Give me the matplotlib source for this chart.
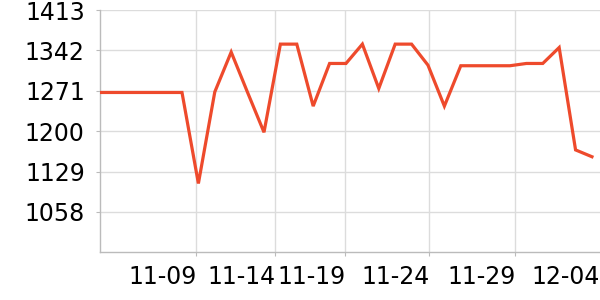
import matplotlib
matplotlib.use("Agg")
import matplotlib.pyplot as plt

values = [1268, 1268, 1268, 1268, 1268, 1268, 1108, 1269, 1339, 1268, 1198,
          1353, 1353, 1244, 1319, 1319, 1353, 1275, 1353, 1353, 1316, 1244,
          1315, 1315, 1315, 1315, 1319, 1319, 1347, 1167, 1155]
y_ticks = [1058, 1129, 1200, 1271, 1342, 1413]
x_tick_labels = ["11-09", "11-14", "11-19", "11-24", "11-29", "12-04"]
x_tick_pos = [5.87, 10.69, 14.96, 20.08, 25.32, 30.49]

fig = plt.figure(figsize=(6, 3), dpi=100)
ax = fig.add_axes([100/600, 1 - 252.3/300, 500/600, (252.3 - 10)/300])

x = list(range(len(values)))
ax.plot(x, values, color="#ee4a2c", lw=2.3, solid_joinstyle="miter", zorder=3)

ax.set_xlim(0, 30.49)
ax.set_ylim(987, 1413)
ax.set_yticks(y_ticks)
ax.set_xticks(x_tick_pos)
ax.set_xticklabels(x_tick_labels, ha="right")

ax.grid(True, color="#dcdcdc", lw=1)
ax.set_axisbelow(True)
for s in ["top", "right"]:
    ax.spines[s].set_visible(False)
for s in ["left", "bottom"]:
    ax.spines[s].set_color("#bbbbbb")
    ax.spines[s].set_linewidth(1)
ax.tick_params(axis="both", colors="#bbbbbb", labelcolor="black", labelsize=17, length=3)
ax.tick_params(axis="y", pad=8)
ax.tick_params(axis="x", pad=6)

# last x tick sits on the right edge: no gridline / tick mark there
ax.xaxis.get_gridlines()[-1].set_visible(False)
ax.xaxis.get_ticklines()[-2].set_visible(False)

fig.savefig("out.png", dpi=100)
